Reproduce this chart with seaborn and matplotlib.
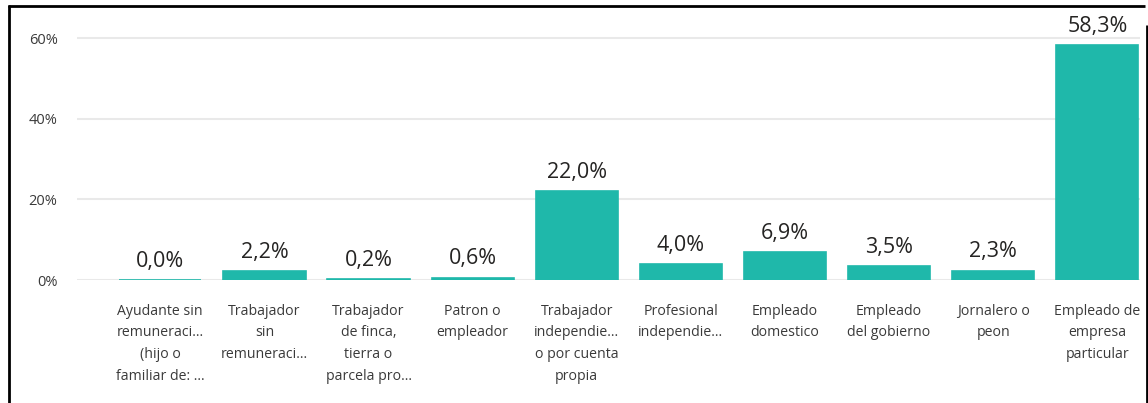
import matplotlib
matplotlib.use("Agg")
import matplotlib.pyplot as plt
import seaborn as sns
import pandas as pd
from matplotlib.lines import Line2D

categories = [
    "Ayudante sin\nremuneraci...\n(hijo o\nfamiliar de: ...",
    "Trabajador\nsin\nremuneraci...",
    "Trabajador\nde finca,\ntierra o\nparcela pro...",
    "Patron o\nempleador",
    "Trabajador\nindependie...\no por cuenta\npropia",
    "Profesional\nindependie...",
    "Empleado\ndomestico",
    "Empleado\ndel gobierno",
    "Jornalero o\npeon",
    "Empleado de\nempresa\nparticular",
]
values = [0.04, 2.2, 0.2, 0.6, 22.0, 4.0, 6.9, 3.5, 2.3, 58.3]
yticks = [0, 20, 40, 60]
ytick_labels = ["0%", "20%", "40%", "60%"]

sns.set_theme(style="white")
plt.rcParams["font.family"] = ["Open Sans", "DejaVu Sans"]

W, H = 1148, 403
fig = plt.figure(figsize=(W / 100, H / 100), dpi=100)
ax_left, ax_right = 77, 1140
ax_bottom_px, ax_top_px = 280, 28
ax = fig.add_axes([ax_left / W, 1 - ax_bottom_px / H,
                   (ax_right - ax_left) / W, (ax_bottom_px - ax_top_px) / H])

df = pd.DataFrame({"cat": categories, "val": values})
sns.barplot(data=df, x="cat", y="val", color="#1FB8AA", saturation=1,
            width=0.79, ax=ax, zorder=3, edgecolor="#1FB8AA", linewidth=1.2)

ax.set_ylim(0, 62.5)
ax.set_xlim(-0.8, 9.41)
ax.set_yticks(yticks)
ax.set_yticklabels(ytick_labels, color="#3A3A3A", fontsize=10.5)
ax.grid(axis="y", color="#E9E9E9", linewidth=1.5, zorder=0)
ax.grid(axis="x", visible=False)
for s in ax.spines.values():
    s.set_visible(False)
ax.set_xlabel("")
ax.set_ylabel("")
ax.tick_params(axis="y", length=0, pad=14)
ax.tick_params(axis="x", length=0, pad=17)
ax.set_xticks(range(len(categories)))
ax.set_xticklabels(categories, color="#3A3A3A", fontsize=10.2,
                   linespacing=1.62, va="top", ha="center")

for i, v in enumerate(values):
    lbl = f"{v:.1f}".replace(".", ",") + "%"
    ax.annotate(lbl, (i, v), xytext=(0, 6), textcoords="offset points",
                ha="center", va="bottom", fontsize=15.5, color="#252423",
                annotation_clip=False)

# frame border lines (screenshot border)
fig.add_artist(Line2D([9 / W, 9 / W], [0, 1 - 5 / H], color="black", lw=2,
                      transform=fig.transFigure, solid_capstyle="butt"))
fig.add_artist(Line2D([8 / W, 1145 / W], [1 - 5.5 / H, 1 - 5.5 / H], color="black",
                      lw=2, transform=fig.transFigure, solid_capstyle="butt"))
fig.add_artist(Line2D([1147 / W, 1147 / W], [0, 1 - 25 / H], color="black", lw=2,
                      transform=fig.transFigure, solid_capstyle="butt"))

fig.savefig("out.png", dpi=100)
